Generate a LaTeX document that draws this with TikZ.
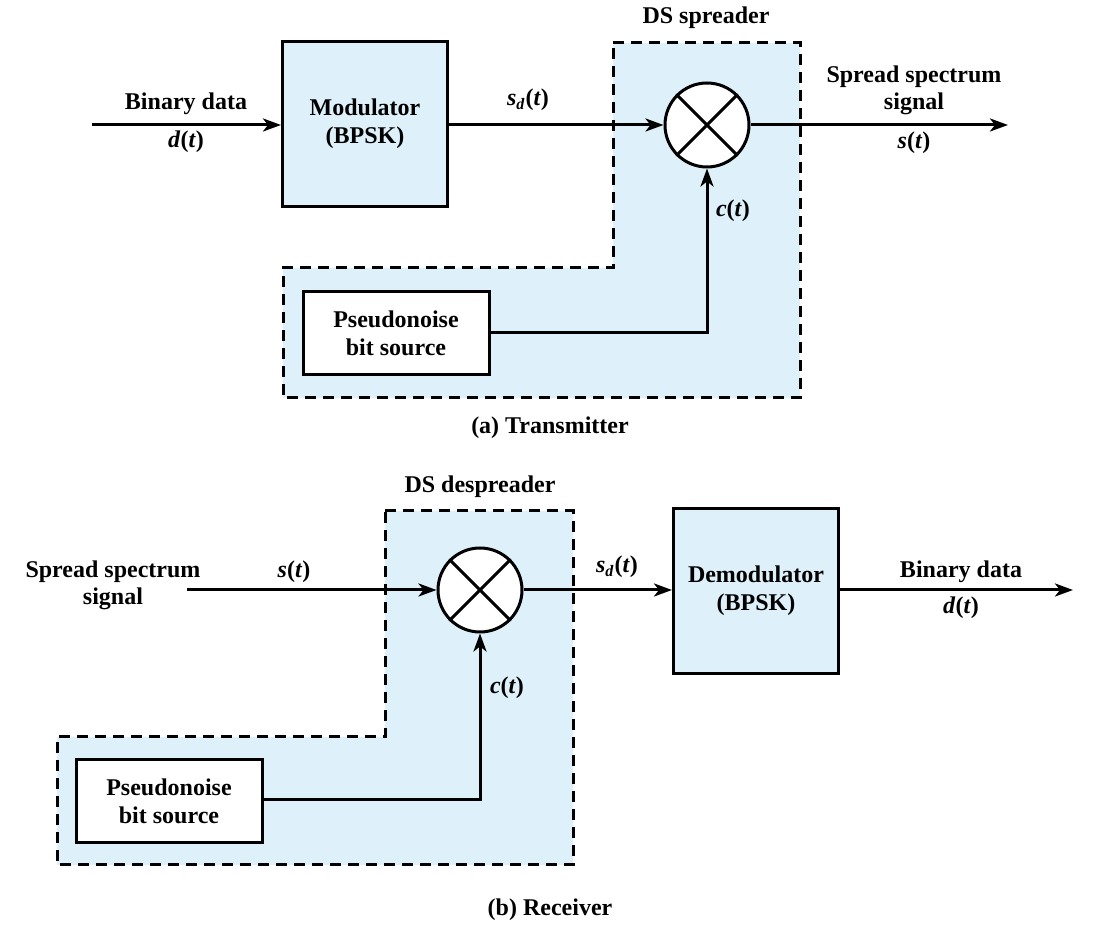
\documentclass[tikz,border=0pt]{standalone}
\usepackage{fontspec}
\setmainfont{Liberation Serif}
\usetikzlibrary{arrows.meta}
\definecolor{lb}{RGB}{222,241,251}
\newcommand{\iv}[1]{\textit{#1}}
\begin{document}
\begin{tikzpicture}[x=0.5pt,y=-0.5pt,
  line width=1.5pt,
  lbl/.style={font=\fontsize{12}{13.5}\selectfont\bfseries, align=center, inner sep=0pt},
  blk/.style={draw, line width=1.5pt, fill=lb, minimum width=82.5pt, minimum height=82.5pt, align=center, inner sep=0pt, font=\fontsize{12}{14}\selectfont\bfseries},
  pnbox/.style={draw, line width=1.5pt, fill=white, minimum width=93pt, minimum height=41.5pt, align=center, inner sep=0pt, font=\fontsize{12}{14}\selectfont\bfseries},
  mix/.style={draw, circle, line width=1.5pt, fill=white, minimum size=42pt, inner sep=0pt},
  region/.style={draw, dash pattern=on 5.5pt off 3.5pt, fill=lb, line width=1.5pt},
  arr/.style={-{Stealth[length=9pt,width=6.5pt,inset=2.5pt]}},
]
\useasboundingbox (0,0) rectangle (1100,929);

% ---------------- Transmitter ----------------
\path[region] (613,43) -- (800,43) -- (800,398) -- (283,398) -- (283,268) -- (613,268) -- cycle;
\node[blk] (mod) at (365,124) {Modulator\\(BPSK)};
\node[mix] (mix1) at (707,125) {};
\draw (mix1.45) -- (mix1.225) (mix1.135) -- (mix1.315);
\node[pnbox] (pn1) at (396,333.5) {Pseudonoise\\bit source};
\coordinate (tin) at (92,125);
\coordinate (tout) at (1008,125);
\draw[arr] (tin) -- (tin -| mod.west);
\draw[arr] (mod.east |- mix1) -- (mix1.west);
\draw[arr] (mix1.east) -- (tout);
\draw[arr] (pn1.east |- 0,333) -| (mix1.south);

\node[lbl] (bd1) at (186,104) {Binary data};
\node[lbl] (dt1) at (186,142) {\iv{d}(\iv{t})};
\node[lbl] (sd1) at (528,100) {\iv{s}\textsubscript{\iv{d}}(\iv{t})};
\node[lbl] (dss) at (706,18) {DS spreader};
\node[lbl] (ss1) at (914,90) {Spread spectrum\\signal};
\node[lbl] (st1) at (914,143) {\iv{s}(\iv{t})};
\node[lbl] (ct1) at (733,211) {\iv{c}(\iv{t})};
\node[lbl] (capa) at (550,428) {(a) Transmitter};

% ---------------- Receiver ----------------
\path[region] (385,511) -- (573,511) -- (573,865) -- (57,865) -- (57,737) -- (385,737) -- cycle;
\node[mix] (mix2) at (480,590) {};
\draw (mix2.45) -- (mix2.225) (mix2.135) -- (mix2.315);
\node[blk] (dem) at (756,591) {Demodulator\\(BPSK)};
\node[pnbox] (pn2) at (169,801.5) {Pseudonoise\\bit source};
\coordinate (rin) at (187,590);
\coordinate (rout) at (1073,590);
\draw[arr] (rin) -- (mix2.west);
\draw[arr] (mix2.east) -- (mix2.east -| dem.west);
\draw[arr] (dem.east |- rout) -- (rout);
\draw[arr] (pn2.east |- 0,800) -| (mix2.south);

\node[lbl] (dsd) at (480,487) {DS despreader};
\node[lbl] (ss2) at (113,585) {Spread spectrum\\signal};
\node[lbl] (st2) at (294,572) {\iv{s}(\iv{t})};
\node[lbl] (ct2) at (507,688) {\iv{c}(\iv{t})};
\node[lbl] (sd2) at (617,567) {\iv{s}\textsubscript{\iv{d}}(\iv{t})};
\node[lbl] (bd2) at (961,572) {Binary data};
\node[lbl] (dt2) at (961,608) {\iv{d}(\iv{t})};
\node[lbl] (capb) at (550,910) {(b) Receiver};
\end{tikzpicture}
\end{document}
